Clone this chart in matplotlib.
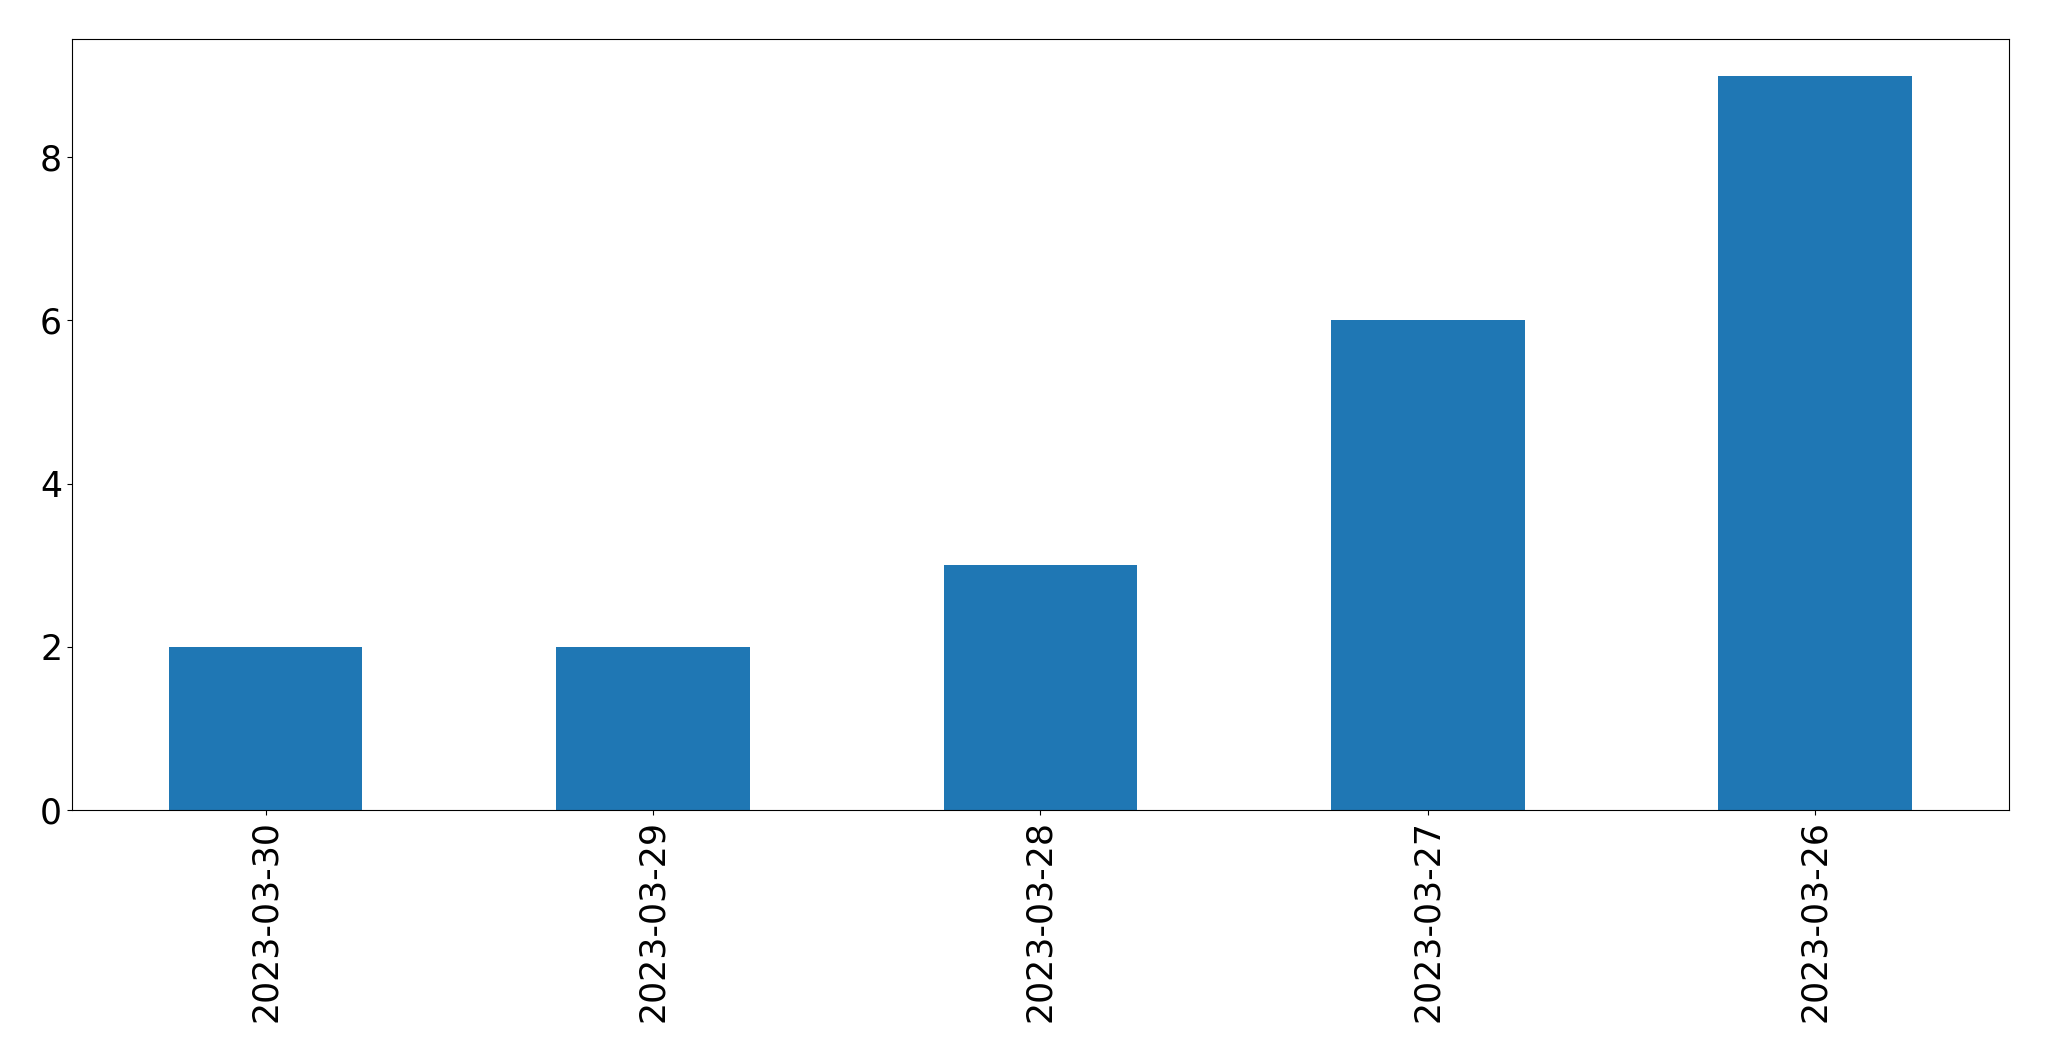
import matplotlib
matplotlib.use('Agg')
import matplotlib.pyplot as plt
import pandas as pd

dates = ['2023-03-30', '2023-03-29', '2023-03-28', '2023-03-27', '2023-03-26']
counts = [2, 2, 3, 6, 9]

ss = pd.Series(counts, index=dates)

fig, ax = plt.subplots(figsize=(20.49, 10.61), dpi=100)
ss.plot(ax=ax, kind='bar', color='#1f77b4')
ax.tick_params(axis='both', labelsize=25)
fig.subplots_adjust(left=0.0351, right=0.9805, top=0.9632, bottom=0.2366)
fig.savefig('out.png', dpi=100)
